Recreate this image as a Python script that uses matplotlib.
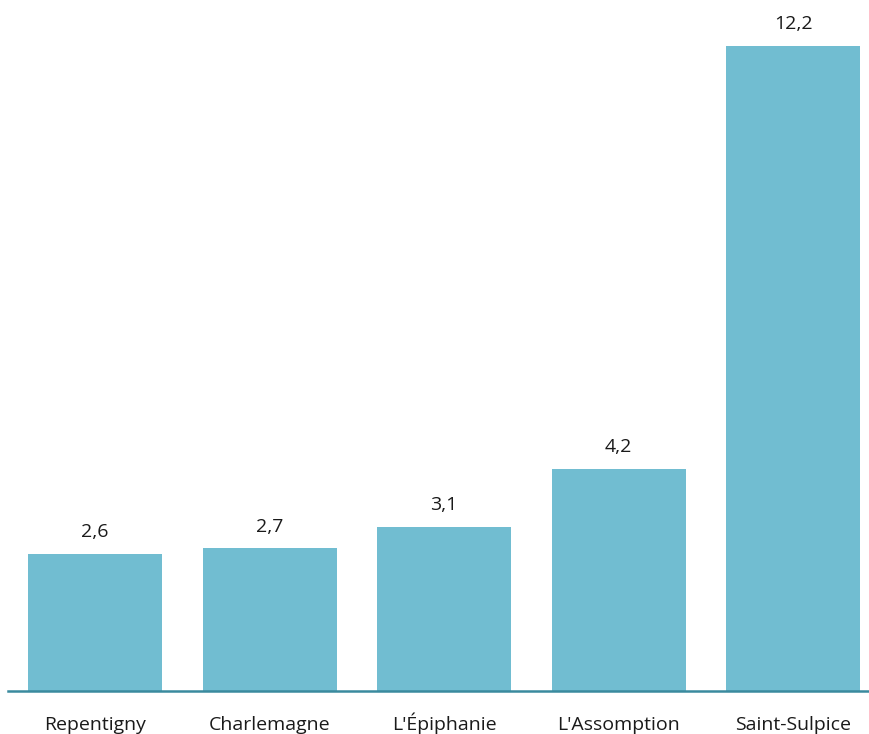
import matplotlib.pyplot as plt

plt.rcParams['font.family'] = ['Open Sans', 'DejaVu Sans']

villes = ['Repentigny', 'Charlemagne', "L'Épiphanie", "L'Assomption", 'Saint-Sulpice']
valeurs = [2.6, 2.7, 3.1, 4.2, 12.2]

fig = plt.figure(figsize=(8.7, 7.34), dpi=100)
ax = fig.add_axes([8 / 870, 43 / 734, 862 / 870, 691 / 734])

x = range(len(villes))
bars = ax.bar(x, valeurs, width=0.768, color='#71bdd1')

for b, v in zip(bars, valeurs):
    ax.annotate(f'{v:.1f}'.replace('.', ','),
                (b.get_x() + b.get_width() / 2, b.get_height()),
                xytext=(0, 12), textcoords='offset points',
                ha='center', va='baseline', fontsize=14, color='#1a1a1a')

ax.set_xlim(-0.5, 4.441)
ax.set_ylim(0, 13.07)
ax.set_xticks(list(x))
ax.set_xticklabels(villes, fontsize=14, color='#1a1a1a')
for lbl in ax.get_xticklabels():
    lbl.set_verticalalignment('baseline')
ax.tick_params(axis='x', length=0, pad=28)
ax.set_yticks([])

for s in ['top', 'right', 'left']:
    ax.spines[s].set_visible(False)
ax.spines['bottom'].set_color('#3a8a9e')
ax.spines['bottom'].set_linewidth(1.8)

fig.savefig('out.png', dpi=100)
